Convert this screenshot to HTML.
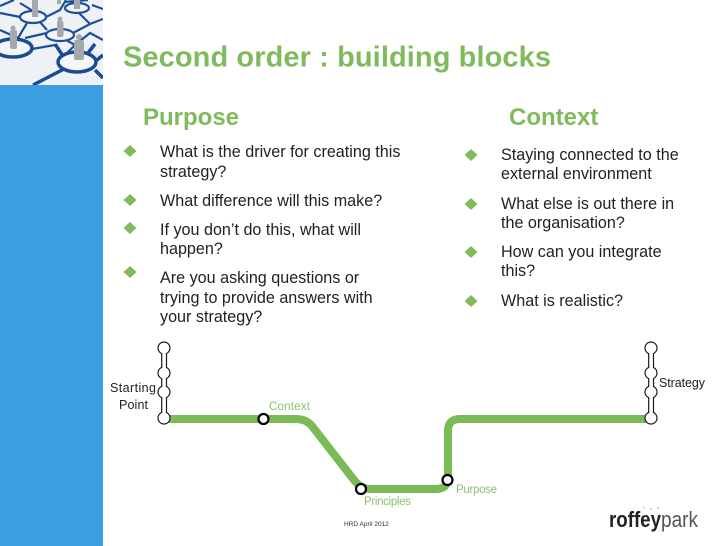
<!DOCTYPE html>
<html><head><meta charset="utf-8"><style>
html,body{margin:0;padding:0;background:#fff;width:728px;height:546px;overflow:hidden}
svg{display:block}
text{font-family:"Liberation Sans",sans-serif}
.b{font-size:16.150px;fill:#222}
.h{font-size:24px;font-weight:bold;fill:#7fbb5c}
.s{font-size:12.500px}
.g{font-size:11.500px;fill:#8cc070}
</style></head><body>
<svg width="728" height="546" viewBox="0 0 728 546" xmlns="http://www.w3.org/2000/svg">
<defs><clipPath id="c"><rect x="0" y="0" width="103" height="85"/></clipPath></defs>
<rect width="728" height="546" fill="#fff"/>
<rect x="0" y="85" width="103" height="461" fill="#3a9ee0"/>
<g clip-path="url(#c)">
<rect width="103" height="85" fill="#eef1f6"/>
<g fill="none" stroke="#1f4f96" stroke-width="2.200">
<path d="M20 17L0 13M46 17L60 10L66 0M27 23L18 38M40 22L47 30M47 33L25 38M18 38L0 30M18 38L30 45M73 33L90 24L103 19M90 24L78 12M66 40L75 45L90 33L103 40M75 45L65 55M32 49L55 45M64 2L88 0M20 3L33 11M0 6L14 0M92 5L103 9"/>
<ellipse cx="33" cy="17" rx="13" ry="6" fill="#f3f5f9"/>
<ellipse cx="77" cy="8" rx="12" ry="5" fill="#f3f5f9"/>
<ellipse cx="60" cy="35" rx="14" ry="6" fill="#f3f5f9"/>
</g>
<g fill="none" stroke="#1a4a94" stroke-width="3.500">
<path d="M64 69L33 85M63 56L55 44M88 53L95 44M97 60L103 55M95 70L103 78"/>
<ellipse cx="13" cy="48" rx="19" ry="9" fill="#f3f5f9"/>
<ellipse cx="77" cy="62" rx="19" ry="10" fill="#f6f7fa"/>
</g>
<g fill="#a5a8ad">
<circle cx="13" cy="28" r="2.500"/><rect x="10" y="30" width="7" height="19" rx="2"/>
<circle cx="60" cy="19" r="2.500"/><rect x="57" y="21" width="6.500" height="16" rx="2"/>
<circle cx="79" cy="37" r="3"/><rect x="74" y="40" width="10" height="20" rx="2"/>
<rect x="32" y="0" width="6" height="17"/>
<rect x="74" y="0" width="6" height="9"/>
<rect x="57" y="0" width="4" height="4"/>
</g>
</g>
<text x="123" y="66.500" font-size="29" font-weight="bold" fill="#7fbb5c" textLength="428" lengthAdjust="spacing">Second order : building blocks</text>
<text x="143" y="125" class="h">Purpose</text>
<text x="509" y="125" class="h">Context</text>
<g fill="#7fbb5c">
<path d="M130 145l6.500 6-6.500 6-6.500-6z"/>
<path d="M130 194l6.500 6-6.500 6-6.500-6z"/>
<path d="M130 222l6.500 6-6.500 6-6.500-6z"/>
<path d="M130 266l6.500 6-6.500 6-6.500-6z"/>
<path d="M471 149l6.500 6-6.500 6-6.500-6z"/>
<path d="M471 198l6.500 6-6.500 6-6.500-6z"/>
<path d="M471 246l6.500 6-6.500 6-6.500-6z"/>
<path d="M471 295l6.500 6-6.500 6-6.500-6z"/>
</g>
<text class="b" x="160" y="157">What is the driver for creating this</text>
<text class="b" x="160" y="177">strategy?</text>
<text class="b" x="160" y="206">What difference will this make?</text>
<text class="b" x="160" y="235">If you don’t do this, what will</text>
<text class="b" x="160" y="254">happen?</text>
<text class="b" x="160" y="283">Are you asking questions or</text>
<text class="b" x="160" y="303">trying to provide answers with</text>
<text class="b" x="160" y="322">your strategy?</text>
<text class="b" x="501" y="160">Staying connected to the</text>
<text class="b" x="501" y="179">external environment</text>
<text class="b" x="501" y="209">What else is out there in</text>
<text class="b" x="501" y="228">the organisation?</text>
<text class="b" x="501" y="257">How can you integrate</text>
<text class="b" x="501" y="276">this?</text>
<text class="b" x="501" y="306">What is realistic?</text>
<path d="M164 419H296Q306 419 312 426L354 480Q361 489 370 489H436Q448 489 448 477V431Q448 419 460 419H651" fill="none" stroke="#7abb58" stroke-width="8"/>
<g fill="#fff" stroke="#1a1a1a" stroke-width="1.200">
<circle cx="164" cy="348" r="6"/><circle cx="164" cy="373" r="6"/><circle cx="164" cy="392" r="6"/><circle cx="164" cy="418" r="6"/>
<circle cx="651" cy="348" r="6"/><circle cx="651" cy="373" r="6"/><circle cx="651" cy="392" r="6"/><circle cx="651" cy="418" r="6"/>
</g>
<g fill="#fff">
<rect x="162" y="352" width="4.500" height="17"/><rect x="162" y="377" width="4.500" height="11"/><rect x="162" y="396" width="4.500" height="18"/>
<rect x="649" y="352" width="4.500" height="17"/><rect x="649" y="377" width="4.500" height="11"/><rect x="649" y="396" width="4.500" height="18"/>
</g>
<path d="M161.700 353V368M166.500 353V368M161.700 378V387M166.500 378V387M161.700 397V413M166.500 397V413M648.700 353V368M653.500 353V368M648.700 378V387M653.500 378V387M648.700 397V413M653.500 397V413" fill="none" stroke="#1a1a1a" stroke-width="1.200"/>
<g fill="#fff" stroke="#000" stroke-width="2.200">
<circle cx="263.500" cy="419" r="5"/>
<circle cx="361" cy="489" r="5"/>
<circle cx="447.500" cy="480" r="5"/>
</g>
<text class="s" x="110" y="392" fill="#222" textLength="46">Starting</text>
<text class="s" x="119" y="409" fill="#222" textLength="29">Point</text>
<text class="s" x="659" y="387" fill="#222" textLength="46">Strategy</text>
<text class="g" x="269" y="410" textLength="41">Context</text>
<text class="g" x="364" y="505" textLength="47">Principles</text>
<text class="g" x="456" y="493" textLength="41">Purpose</text>
<text x="344" y="526" font-size="6.500" fill="#333">HRD April 2012</text>
<text x="609" y="527" font-size="22" font-weight="bold" fill="#222" textLength="52" lengthAdjust="spacingAndGlyphs">roffey</text>
<text x="661" y="527" font-size="22" fill="#555" textLength="37" lengthAdjust="spacingAndGlyphs">park</text>
<g fill="#7fbb5c"><circle cx="644" cy="508" r=".7"/><circle cx="651" cy="509" r=".7"/><circle cx="658" cy="508" r=".7"/></g>
</svg>
</body></html>
